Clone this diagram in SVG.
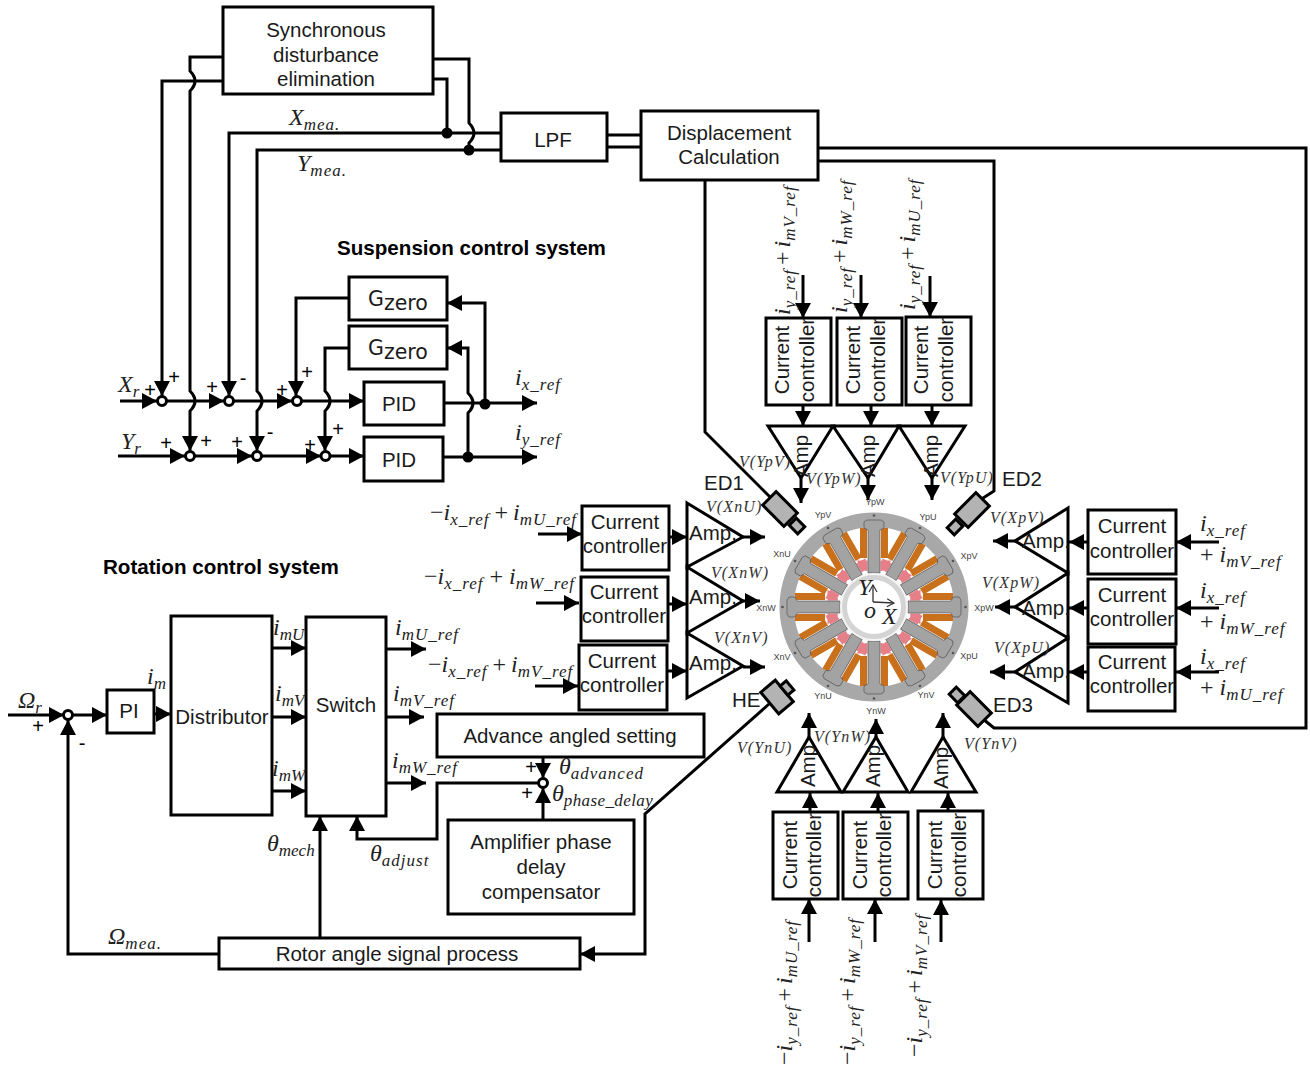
<svg xmlns="http://www.w3.org/2000/svg" width="1310" height="1067" viewBox="0 0 1310 1067">
<style>
.b{fill:#fff;stroke:#000;stroke-width:3}
.t{font-family:"Liberation Sans",Arial,sans-serif;font-size:20.5px;fill:#1a1a1a;text-anchor:middle}
.l{text-anchor:start}
.h{font-family:"Liberation Sans",Arial,sans-serif;font-size:20.6px;font-weight:bold;fill:#000}
.g{font-family:"DejaVu Sans",sans-serif;font-size:20.5px;fill:#1a1a1a;text-anchor:middle}
.p{font-family:"Liberation Sans",Arial,sans-serif;font-size:20px;fill:#000;text-anchor:middle}
.m{font-family:"Liberation Serif","Times New Roman",serif;font-size:24px;font-style:italic;fill:#222}
.s{font-size:17px;letter-spacing:1px}
.n{font-style:normal}
.v{font-family:"Liberation Serif","Times New Roman",serif;font-size:16px;font-style:italic;letter-spacing:1.1px;fill:#333}
.w{font-family:"Liberation Sans",Arial,sans-serif;font-size:9px;fill:#444;text-anchor:middle}
.c path{fill:none;stroke:#000;stroke-width:3}
.a{marker-end:url(#arr)}
.e{fill:#b3b3b3;stroke:#000;stroke-width:3}
</style>
<defs>
<marker id="arr" markerUnits="userSpaceOnUse" markerWidth="16" markerHeight="16" viewBox="0 0 16 16" refX="15" refY="8" orient="auto"><path d="M0 0L15 8L0 16Z" fill="#000"/></marker>
<marker id="ax" markerUnits="userSpaceOnUse" markerWidth="10" markerHeight="10" viewBox="0 0 10 10" refX="9" refY="5" orient="auto"><path d="M2 1L9 5L2 9" fill="none" stroke="#333" stroke-width="1.2"/></marker>
<g id="pole">
<rect x="49" y="-14" width="30" height="7" fill="#c9701c"/>
<rect x="49" y="7" width="30" height="7" fill="#c9701c"/>
<path d="M36 -6.500L46.500 -6.500L46.500 -17L37 -13Z" fill="#e77f88"/>
<path d="M36 6.500L46.500 6.500L46.500 17L37 13Z" fill="#e77f88"/>
<path d="M34 -6H77L79 -10H85L87 -7V7L85 10H79L77 6H34Z" fill="#a3a3a3" stroke="#555" stroke-width=".7"/>
</g>
</defs>
<rect width="1310" height="1067" fill="#fff"/>

<g id="connectors" class="c">
<path d="M223 57H190V71Q200 81 190 91V391Q200 401 190 411V451" class="a"/>
<path d="M223 81H162V396" class="a"/>
<path d="M433 59H469V123Q479 133 469 143V150"/>
<path d="M433 79H447V133"/>
<path d="M501 133H229V396" class="a"/>
<path d="M501 150H257V391Q267 401 257 411V451" class="a"/>
<path d="M607 135H641M607 147H641"/>
<path d="M120 401H157" class="a"/><path d="M166 401H224" class="a"/><path d="M233 401H292" class="a"/><path d="M301 401H364" class="a"/>
<path d="M118 456H185" class="a"/><path d="M194 456H252" class="a"/><path d="M261 456H321" class="a"/><path d="M330 456H364" class="a"/>
<path d="M444 403H537" class="a"/><path d="M443 457H537" class="a"/>
<path d="M485 404V303H447" class="a"/>
<path d="M468 457V413Q478 403 468 393V348H447" class="a"/>
<path d="M349 298H296V396" class="a"/>
<path d="M349 348H325V391Q335 401 325 411V451" class="a"/>
<path d="M8 715H64" class="a"/><path d="M73 715H107" class="a"/><path d="M154 714H171" class="a"/>
<path d="M272 648H306" class="a"/><path d="M272 717H306" class="a"/><path d="M272 791H306" class="a"/>
<path d="M386 649H426" class="a"/><path d="M386 717H424" class="a"/><path d="M386 783H426" class="a"/>
<path d="M219 954H68V720" class="a"/>
<path d="M320 938V816" class="a"/>
<path d="M539 783H437V839H357V816" class="a"/>
<path d="M543 757V778" class="a"/><path d="M543 820V788" class="a"/>
<path d="M769 704L645 814V954H580" class="a"/>
<path d="M705 180V432L770 497"/>
<path d="M818 161H994V491L980 500"/>
<path d="M818 148H1306V728H994L983 719"/>
<path d="M538 534H582" class="a"/><path d="M536 603H579" class="a"/><path d="M535 686H578" class="a"/>
<path d="M669 537H687" class="a"/><path d="M668 604H687" class="a"/><path d="M667 671H687" class="a"/>
<path d="M743 537H765" class="a"/><path d="M743 601H760" class="a"/><path d="M743 667H765" class="a"/>
<path d="M1219 542H1176" class="a"/><path d="M1219 608H1176" class="a"/><path d="M1219 672H1176" class="a"/>
<path d="M1088 542H1069" class="a"/><path d="M1088 608H1069" class="a"/><path d="M1088 672H1069" class="a"/>
<path d="M1015 541H993" class="a"/><path d="M1015 607H995" class="a"/><path d="M1015 672H990" class="a"/>
<path d="M803 275V318" class="a"/><path d="M861 275V318" class="a"/><path d="M930 276V317" class="a"/>
<path d="M803 405V426" class="a"/><path d="M871 405V426" class="a"/><path d="M932 405V426" class="a"/>
<path d="M801 478V503" class="a"/><path d="M868 478V500" class="a"/><path d="M932 478V500" class="a"/>
<path d="M809 942V899" class="a"/><path d="M875 942V899" class="a"/><path d="M941 942V900" class="a"/>
<path d="M810 812V793" class="a"/><path d="M878 812V793" class="a"/><path d="M948 811V793" class="a"/>
<path d="M809 737V713" class="a"/><path d="M876 737V719" class="a"/><path d="M943 737V713" class="a"/>
</g>

<g id="junctions" fill="#000">
<circle cx="447" cy="133" r="5.500"/><circle cx="469" cy="150" r="5.500"/>
<circle cx="485" cy="404" r="5.500"/><circle cx="468" cy="457" r="5.500"/>
</g>
<g id="sums" fill="#fff" stroke="#000" stroke-width="3">
<circle cx="162" cy="401" r="4.500"/><circle cx="229" cy="401" r="4.500"/><circle cx="297" cy="401" r="4.500"/>
<circle cx="190" cy="456" r="4.500"/><circle cx="257" cy="456" r="4.500"/><circle cx="325.500" cy="456" r="4.500"/>
<circle cx="68" cy="715" r="4.500"/><circle cx="543" cy="783" r="4.500"/>
</g>

<g id="sync"><rect class="b" x="223" y="7" width="210" height="87"/><text class="t" x="326" y="37">Synchronous</text><text class="t" x="326" y="62">disturbance</text><text class="t" x="326" y="86">elimination</text></g>
<g id="lpf"><rect class="b" x="501" y="113" width="106" height="48"/><text class="t" x="553" y="147">LPF</text></g>
<g id="disp"><rect class="b" x="641" y="111" width="177" height="69"/><text class="t" x="729" y="140">Displacement</text><text class="t" x="729" y="164">Calculation</text></g>
<g id="gzero1"><rect class="b" x="349" y="277" width="98" height="43"/><text class="g" x="398" y="310"><tspan dy="-4">G</tspan><tspan dy="4">zero</tspan></text></g>
<g id="gzero2"><rect class="b" x="349" y="326" width="98" height="43"/><text class="g" x="398" y="359"><tspan dy="-4">G</tspan><tspan dy="4">zero</tspan></text></g>
<g id="pid1"><rect class="b" x="364" y="382" width="80" height="43"/><text class="t" x="399" y="411">PID</text></g>
<g id="pid2"><rect class="b" x="364" y="437" width="79" height="44"/><text class="t" x="399" y="467">PID</text></g>
<g id="pi"><rect class="b" x="107" y="690" width="47" height="43"/><text class="t" x="129" y="718">PI</text></g>
<g id="distributor"><rect class="b" x="171" y="616" width="101" height="199"/><text class="t" x="222" y="724">Distributor</text></g>
<g id="switch"><rect class="b" x="306" y="617" width="80" height="199"/><text class="t" x="346" y="712">Switch</text></g>
<g id="advance"><rect class="b" x="437" y="714" width="267" height="43"/><text class="t" x="570" y="743">Advance angled setting</text></g>
<g id="ampdelay"><rect class="b" x="448" y="820" width="186" height="94"/><text class="t" x="541" y="849">Amplifier phase</text><text class="t" x="541" y="874">delay</text><text class="t" x="541" y="899">compensator</text></g>
<g id="rotorproc"><rect class="b" x="219" y="938" width="361" height="31"/><text class="t" x="397" y="961">Rotor angle signal process</text></g>

<g id="cc-left">
<rect class="b" x="582" y="506" width="87" height="64"/><text class="t" x="625" y="529">Current</text><text class="t" x="625" y="553">controller</text>
<rect class="b" x="581" y="577" width="87" height="64"/><text class="t" x="624" y="599">Current</text><text class="t" x="624" y="623">controller</text>
<rect class="b" x="579" y="645" width="88" height="65"/><text class="t" x="622" y="668">Current</text><text class="t" x="622" y="692">controller</text>
</g>
<g id="cc-right">
<rect class="b" x="1088" y="510" width="88" height="64"/><text class="t" x="1132" y="533">Current</text><text class="t" x="1132" y="558">controller</text>
<rect class="b" x="1088" y="579" width="88" height="65"/><text class="t" x="1132" y="602">Current</text><text class="t" x="1132" y="626">controller</text>
<rect class="b" x="1088" y="647" width="87" height="64"/><text class="t" x="1132" y="669">Current</text><text class="t" x="1132" y="693">controller</text>
</g>
<g id="cc-top">
<rect class="b" x="766" y="318" width="65" height="87"/><text class="t" transform="translate(789 360) rotate(-90)">Current</text><text class="t" transform="translate(814 360) rotate(-90)">controller</text>
<rect class="b" x="837" y="318" width="65" height="87"/><text class="t" transform="translate(860 360) rotate(-90)">Current</text><text class="t" transform="translate(885 360) rotate(-90)">controller</text>
<rect class="b" x="906" y="317" width="65" height="88"/><text class="t" transform="translate(928 360) rotate(-90)">Current</text><text class="t" transform="translate(953 360) rotate(-90)">controller</text>
</g>
<g id="cc-bottom">
<rect class="b" x="773" y="812" width="65" height="87"/><text class="t" transform="translate(797 855) rotate(-90)">Current</text><text class="t" transform="translate(821 855) rotate(-90)">controller</text>
<rect class="b" x="843" y="812" width="65" height="87"/><text class="t" transform="translate(867 855) rotate(-90)">Current</text><text class="t" transform="translate(891 855) rotate(-90)">controller</text>
<rect class="b" x="918" y="811" width="65" height="88"/><text class="t" transform="translate(942 855) rotate(-90)">Current</text><text class="t" transform="translate(966 855) rotate(-90)">controller</text>
</g>

<g id="amps-left" fill="none" stroke="#000" stroke-width="3">
<path d="M687 503L743 537L687 567Z"/><path d="M687 567L743 601L687 633Z"/><path d="M687 633L743 666L687 698Z"/>
</g>
<g id="amps-right" fill="none" stroke="#000" stroke-width="3">
<path d="M1068 508L1015 541L1068 573Z"/><path d="M1068 573L1015 607L1068 638Z"/><path d="M1068 638L1015 672L1068 703Z"/>
</g>
<g id="amps-top" fill="none" stroke="#000" stroke-width="3">
<path d="M768 426H833L801 478Z"/><path d="M833 426H899L868 478Z"/><path d="M899 426H965L932 478Z"/>
</g>
<g id="amps-bottom" fill="none" stroke="#000" stroke-width="3">
<path d="M777 792H841L809 737Z"/><path d="M843 792H908L876 737Z"/><path d="M911 792H976L943 737Z"/>
</g>
<g id="amp-labels">
<text class="t l" x="689" y="540">Amp.</text><text class="t l" x="689" y="604">Amp.</text><text class="t l" x="689" y="670">Amp.</text>
<text class="t l" x="1022" y="548">Amp.</text><text class="t l" x="1022" y="615">Amp.</text><text class="t l" x="1022" y="678">Amp.</text>
<text class="t" transform="translate(808 456) rotate(-90)">Amp</text><text class="t" transform="translate(875 456) rotate(-90)">Amp</text><text class="t" transform="translate(938 456) rotate(-90)">Amp</text>
<text class="t" transform="translate(815 766) rotate(-90)">Amp</text><text class="t" transform="translate(880 766) rotate(-90)">Amp</text><text class="t" transform="translate(948 765) rotate(-90)">Amp.</text>
</g>

<g id="motor">
<circle cx="874" cy="607" r="81" fill="#fff"/>
<path d="M874 512.500a94.500 94.500 0 1 0 .01 0ZM874 527a80 80 0 1 1 -.01 0Z" fill="#a8a8a8" fill-rule="evenodd"/>
<use href="#pole" transform="translate(874 607) rotate(0)"/><use href="#pole" transform="translate(874 607) rotate(30)"/><use href="#pole" transform="translate(874 607) rotate(60)"/><use href="#pole" transform="translate(874 607) rotate(90)"/><use href="#pole" transform="translate(874 607) rotate(120)"/><use href="#pole" transform="translate(874 607) rotate(150)"/><use href="#pole" transform="translate(874 607) rotate(180)"/><use href="#pole" transform="translate(874 607) rotate(210)"/><use href="#pole" transform="translate(874 607) rotate(240)"/><use href="#pole" transform="translate(874 607) rotate(270)"/><use href="#pole" transform="translate(874 607) rotate(300)"/><use href="#pole" transform="translate(874 607) rotate(330)"/>
<g fill="#555"><circle cx="874" cy="515.500" r="1.300"/><circle cx="874" cy="698.500" r="1.300"/><circle cx="782.500" cy="607" r="1.300"/><circle cx="965.500" cy="607" r="1.300"/><circle cx="828" cy="528" r="1.300"/><circle cx="920" cy="528" r="1.300"/><circle cx="828" cy="686" r="1.300"/><circle cx="920" cy="686" r="1.300"/><circle cx="795" cy="561" r="1.300"/><circle cx="953" cy="561" r="1.300"/><circle cx="795" cy="653" r="1.300"/><circle cx="953" cy="653" r="1.300"/></g>
<circle cx="874" cy="607" r="34" fill="#f4f4f4"/>
<circle cx="874" cy="607" r="29.500" fill="#fff" stroke="#d4d4d4" stroke-width="5"/>
<path d="M873 602V585" fill="none" stroke="#333" stroke-width="1.300" marker-end="url(#ax)"/>
<path d="M873 602L894 603" fill="none" stroke="#333" stroke-width="1.300" marker-end="url(#ax)"/>
<text class="m" x="858" y="595">Y</text><text class="m" x="864" y="618">o</text><text class="m" x="882" y="624">X</text>
<text class="w" x="875" y="505">YpW</text><text class="w" x="823" y="518">YpV</text><text class="w" x="928" y="520">YpU</text><text class="w" x="782" y="557">XnU</text><text class="w" x="969" y="559">XpV</text><text class="w" x="766" y="611">XnW</text><text class="w" x="984" y="611">XpW</text><text class="w" x="782" y="660">XnV</text><text class="w" x="969" y="659">XpU</text><text class="w" x="823" y="699">YnU</text><text class="w" x="926" y="698">YnV</text><text class="w" x="876" y="714">YnW</text>
</g>

<g id="ed1"><rect class="e" x="-15" y="-9.500" width="30" height="19" transform="translate(780 509) rotate(45)"/><rect class="e" x="-6" y="-5" width="12" height="10" transform="translate(797 526) rotate(45)"/><text class="t l" x="704" y="490">ED1</text></g>
<g id="ed2"><rect class="e" x="-15" y="-9.500" width="30" height="19" transform="translate(972 510) rotate(-45)"/><rect class="e" x="-6" y="-5" width="12" height="10" transform="translate(955 527) rotate(-45)"/><text class="t l" x="1002" y="486">ED2</text></g>
<g id="ed3"><rect class="e" x="-15" y="-9.500" width="30" height="19" transform="translate(974 709) rotate(45)"/><rect class="e" x="-6" y="-5" width="12" height="10" transform="translate(957 695) rotate(45)"/><text class="t l" x="993" y="712">ED3</text></g>
<g id="he"><rect class="e" x="-14" y="-9.500" width="28" height="19" transform="translate(777 697) rotate(50)"/><rect class="e" x="-6" y="-4" width="12" height="8" transform="translate(787 688) rotate(50)"/><text class="t l" x="732" y="707">HE</text></g>

<g id="titles">
<text class="h" x="337" y="255">Suspension control system</text>
<text class="h" x="103" y="574">Rotation control system</text>
</g>

<g id="signs">
<text class="p" x="150" y="397">+</text><text class="p" x="174" y="384">+</text><text class="p" x="212" y="394">+</text><text class="p" x="243" y="385">-</text><text class="p" x="282" y="397">+</text><text class="p" x="307" y="379">+</text>
<text class="p" x="166" y="450">+</text><text class="p" x="206" y="448">+</text><text class="p" x="237" y="449">+</text><text class="p" x="270" y="439">-</text><text class="p" x="310" y="452">+</text><text class="p" x="338" y="436">+</text>
<text class="p" x="38" y="733">+</text><text class="p" x="82" y="750">-</text><text class="p" x="531" y="774">+</text><text class="p" x="527" y="800">+</text>
</g>

<g id="math">
<text class="m" x="118" y="392">X<tspan class="s" dy="5">r</tspan></text>
<text class="m" x="121" y="449">Y<tspan class="s" dy="5">r</tspan></text>
<text class="m" x="515" y="385">i<tspan class="s" dy="5">x_ref</tspan></text>
<text class="m" x="515" y="440">i<tspan class="s" dy="5">y_ref</tspan></text>
<text class="m" x="289" y="125">X<tspan class="s" dy="5">mea.</tspan></text>
<text class="m" x="297" y="171">Y<tspan class="s" dy="5">mea.</tspan></text>
<text class="m" x="147" y="684">i<tspan class="s" dy="5">m</tspan></text>
<text class="m" x="273" y="635">i<tspan class="s" dy="5" style="letter-spacing:0">mU</tspan></text>
<text class="m" x="275" y="701">i<tspan class="s" dy="5" style="letter-spacing:0">mV</tspan></text>
<text class="m" x="272" y="776">i<tspan class="s" dy="5" style="letter-spacing:0">mW</tspan></text>
<text class="m" x="395" y="635">i<tspan class="s" dy="5">mU_ref</tspan></text>
<text class="m" x="393" y="701">i<tspan class="s" dy="5">mV_ref</tspan></text>
<text class="m" x="392" y="768">i<tspan class="s" dy="5">mW_ref</tspan></text>
<text class="m" x="267" y="851">θ<tspan class="s" dy="5" style="letter-spacing:0">mech</tspan></text>
<text class="m" x="370" y="861">θ<tspan class="s" dy="5">adjust</tspan></text>
<text class="m" x="559" y="774">θ<tspan class="s" dy="5">advanced</tspan></text>
<text class="m" x="552" y="801">θ<tspan class="s" dy="5" style="letter-spacing:.4px">phase_delay</tspan></text>
<text class="m" x="18" y="708">Ω<tspan class="s" dy="5">r</tspan></text>
<text class="m" x="108" y="944">Ω<tspan class="s" dy="5">mea.</tspan></text>
<text class="m" x="1200" y="531">i<tspan class="s" dy="5">x_ref</tspan></text>
<text class="m" x="1200" y="562"><tspan class="n">+ </tspan>i<tspan class="s" dy="5">mV_ref</tspan></text>
<text class="m" x="1200" y="598">i<tspan class="s" dy="5">x_ref</tspan></text>
<text class="m" x="1200" y="629"><tspan class="n">+ </tspan>i<tspan class="s" dy="5">mW_ref</tspan></text>
<text class="m" x="1200" y="664">i<tspan class="s" dy="5">x_ref</tspan></text>
<text class="m" x="1200" y="695"><tspan class="n">+ </tspan>i<tspan class="s" dy="5">mU_ref</tspan></text>
<text class="m" x="430" y="520"><tspan class="n">−</tspan>i<tspan class="s" dy="5">x_ref</tspan><tspan class="n" dy="-5" dx="5">+</tspan><tspan dx="5">i</tspan><tspan class="s" dy="5">mU_ref</tspan></text>
<text class="m" x="424" y="584"><tspan class="n">−</tspan>i<tspan class="s" dy="5">x_ref</tspan><tspan class="n" dy="-5" dx="6">+</tspan><tspan dx="6">i</tspan><tspan class="s" dy="5">mW_ref</tspan></text>
<text class="m" x="428" y="672"><tspan class="n">−</tspan>i<tspan class="s" dy="5">x_ref</tspan><tspan class="n" dy="-5" dx="5">+</tspan><tspan dx="5">i</tspan><tspan class="s" dy="5">mV_ref</tspan></text>
<text class="m" transform="translate(790 315) rotate(-90)">i<tspan class="s" dy="5">y_ref</tspan><tspan class="n" dy="-5" dx="4">+</tspan><tspan dx="4">i</tspan><tspan class="s" dy="5">mV_ref</tspan></text>
<text class="m" transform="translate(847 313) rotate(-90)">i<tspan class="s" dy="5">y_ref</tspan><tspan class="n" dy="-5" dx="4">+</tspan><tspan dx="4">i</tspan><tspan class="s" dy="5">mW_ref</tspan></text>
<text class="m" transform="translate(915 310) rotate(-90)">i<tspan class="s" dy="5">y_ref</tspan><tspan class="n" dy="-5" dx="4">+</tspan><tspan dx="4">i</tspan><tspan class="s" dy="5">mU_ref</tspan></text>
<text class="m" transform="translate(792 1065) rotate(-90)"><tspan class="n">−</tspan>i<tspan class="s" dy="5">y_ref</tspan><tspan class="n" dy="-5" dx="4">+</tspan><tspan dx="4">i</tspan><tspan class="s" dy="5">mU_ref</tspan></text>
<text class="m" transform="translate(855 1065) rotate(-90)"><tspan class="n">−</tspan>i<tspan class="s" dy="5">y_ref</tspan><tspan class="n" dy="-5" dx="4">+</tspan><tspan dx="4">i</tspan><tspan class="s" dy="5">mW_ref</tspan></text>
<text class="m" transform="translate(922 1057) rotate(-90)"><tspan class="n">−</tspan>i<tspan class="s" dy="5">y_ref</tspan><tspan class="n" dy="-5" dx="4">+</tspan><tspan dx="4">i</tspan><tspan class="s" dy="5">mV_ref</tspan></text>
<text class="v" x="739" y="467">V(YpV)</text><text class="v" x="806" y="484">V(YpW)</text><text class="v" x="940" y="483">V(YpU)</text>
<text class="v" x="706" y="512">V(XnU)</text><text class="v" x="711" y="578">V(XnW)</text><text class="v" x="714" y="643">V(XnV)</text>
<text class="v" x="990" y="523">V(XpV)</text><text class="v" x="982" y="588">V(XpW)</text><text class="v" x="994" y="653">V(XpU)</text>
<text class="v" x="737" y="753">V(YnU)</text><text class="v" x="814" y="742">V(YnW)</text><text class="v" x="964" y="749">V(YnV)</text>
</g>
</svg>
